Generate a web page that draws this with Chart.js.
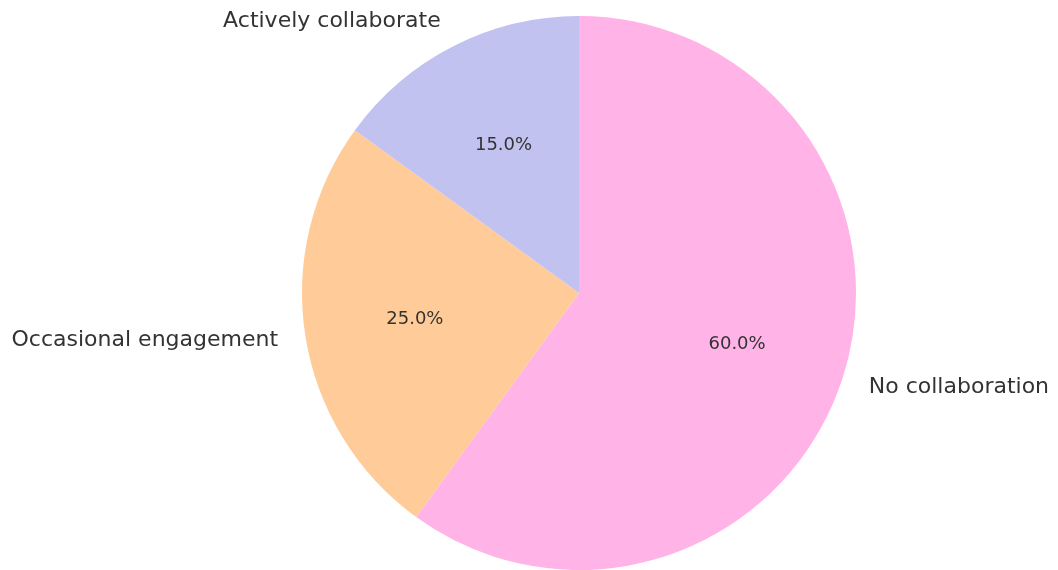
<!DOCTYPE html>
<html>
<head>
<meta charset="utf-8">
<script src="https://cdn.jsdelivr.net/npm/chart.js@4/dist/chart.umd.min.js"></script>
<style>
    html, body { margin: 0; padding: 0; background: #ffffff; }
    #wrap { width: 1058px; height: 570px; position: relative; }
</style>
</head>
<body>
<div id="wrap"><canvas id="pieChart"></canvas></div>
<script>
// Collaboration levels, drawn clockwise from 12 o'clock
const labels = ['No collaboration', 'Occasional engagement', 'Actively collaborate'];
const shares = [60, 25, 15];
const colors = ['#ffb3e6', '#ffcc99', '#c2c2f0'];

const textColor = '#333333';
const fontFamily = "'DejaVu Sans', sans-serif";

// Category names just outside the rim, percentages inside each wedge
const sliceLabels = {
    id: 'sliceLabels',
    afterDatasetsDraw(chart) {
        const ctx = chart.ctx;
        const meta = chart.getDatasetMeta(0);
        const total = shares.reduce((a, b) => a + b, 0);
        ctx.save();
        ctx.fillStyle = textColor;
        ctx.textBaseline = 'middle';
        meta.data.forEach((arc, i) => {
            const mid = (arc.startAngle + arc.endAngle) / 2;
            const r = arc.outerRadius;
            const cos = Math.cos(mid);
            const sin = Math.sin(mid);

            ctx.font = '22px ' + fontFamily;
            ctx.textAlign = cos >= 0 ? 'left' : 'right';
            ctx.fillText(labels[i], arc.x + cos * r * 1.1, arc.y + sin * r * 1.1);

            ctx.font = '18px ' + fontFamily;
            ctx.textAlign = 'center';
            const pct = (shares[i] / total * 100).toFixed(1) + '%';
            ctx.fillText(pct, arc.x + cos * r * 0.6, arc.y + sin * r * 0.6);
        });
        ctx.restore();
    }
};

new Chart(document.getElementById('pieChart'), {
    type: 'pie',
    data: {
        labels: labels,
        datasets: [{
            data: shares,
            backgroundColor: colors,
            borderWidth: 0,
        }],
    },
    options: {
        responsive: true,
        maintainAspectRatio: false,
        animation: false,
        layout: {
            padding: { top: 16, bottom: 0, left: 302, right: 202 },
        },
        plugins: {
            legend: { display: false },
            tooltip: { enabled: false },
        },
    },
    plugins: [sliceLabels],
});
</script>
</body>
</html>
